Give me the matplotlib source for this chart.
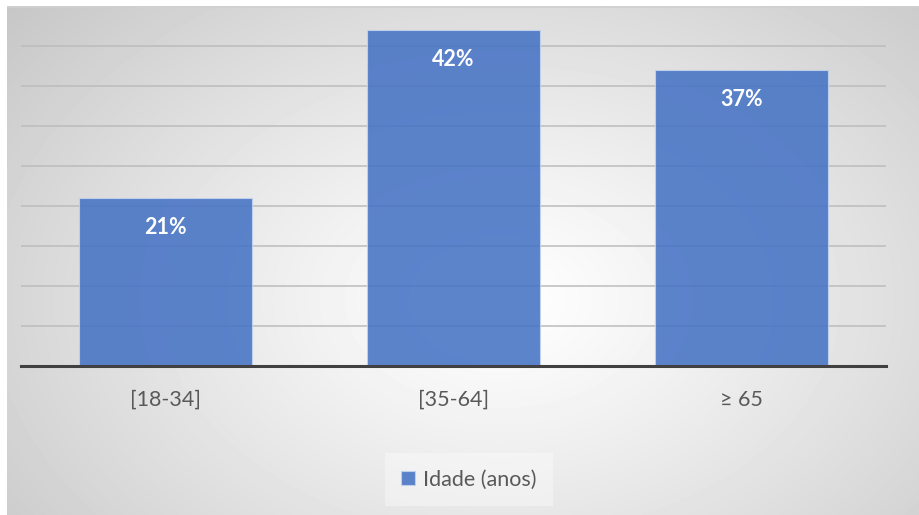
import numpy as np
import matplotlib.pyplot as plt

# age groups and share of respondents (%)
categorias = ['[18-34]', '[35-64]', '≥ 65']
valores = [21, 42, 37]
serie = 'Idade (anos)'
grelha = [5, 10, 15, 20, 25, 30, 35, 40]

W, H = 920, 515
fig = plt.figure(figsize=(W / 100, H / 100), dpi=100)
fig.patch.set_facecolor('white')

# radial grey background of the chart area
bx0, by0 = 7, 6
bw, bh = W - bx0, H - by0
bg = fig.add_axes([bx0 / W, 0, bw / W, bh / H])
yy, xx = np.mgrid[by0:H, bx0:W]
r = np.sqrt(((xx - 500) / 520.0) ** 2 + ((yy - 300) / 360.0) ** 2)
g = 1 - (62 / 255.0) * np.clip(r / 1.35, 0, 1) ** 1.15
bg.imshow(g, cmap='gray', vmin=0, vmax=1, aspect='auto', interpolation='bilinear')
bg.plot([-0.5, bw], [0, 0], color='#d0d0d0', lw=1.2)
bg.set_xlim(-0.5, bw - 0.5)
bg.set_ylim(bh - 0.5, -0.5)
bg.set_axis_off()

ax = fig.add_axes([21 / W, 1 - 366 / H, 865 / W, 360 / H])
ax.patch.set_alpha(0)
ax.set_xlim(-0.5, len(categorias) - 0.5)
ax.set_ylim(0, 45)

for v in grelha:
    ax.axhline(v, color='#bcbcbc', lw=1.1, zorder=1)

x = np.arange(len(categorias))
barras = ax.bar(x, valores, width=0.6, color='#4472C4', alpha=0.87,
                edgecolor='#c5d3ee', linewidth=0.8, zorder=2, label=serie)
ax.axhline(0, color='#404040', lw=2.2, zorder=3, clip_on=False)

fonte = ['Lato', 'DejaVu Sans']
for xi, v in zip(x, valores):
    ax.annotate(f'{v}%', (xi, v), xytext=(0, -21), textcoords='offset points',
                ha='center', va='center', color='white', fontsize=15.5,
                fontweight='bold', family=fonte, zorder=4)

ax.set_xticks(x)
ax.set_xticklabels(categorias, family=fonte, fontsize=15.5, color='#595959')
ax.tick_params(axis='x', length=0, pad=17)
ax.set_yticks([])
for s in ax.spines.values():
    s.set_visible(False)

leg = fig.legend(handles=[barras], labels=[serie], loc='center',
                 bbox_to_anchor=(469 / W, 1 - 479.5 / H), frameon=True,
                 prop={'family': fonte, 'size': 15.5}, handlelength=0.65,
                 handleheight=0.65, handletextpad=0.35, borderpad=0.75,
                 fancybox=False)
leg.get_frame().set_facecolor('white')
leg.get_frame().set_alpha(0.35)
leg.get_frame().set_linewidth(0)
for t in leg.get_texts():
    t.set_color('#595959')

fig.savefig('out.png', dpi=100)
